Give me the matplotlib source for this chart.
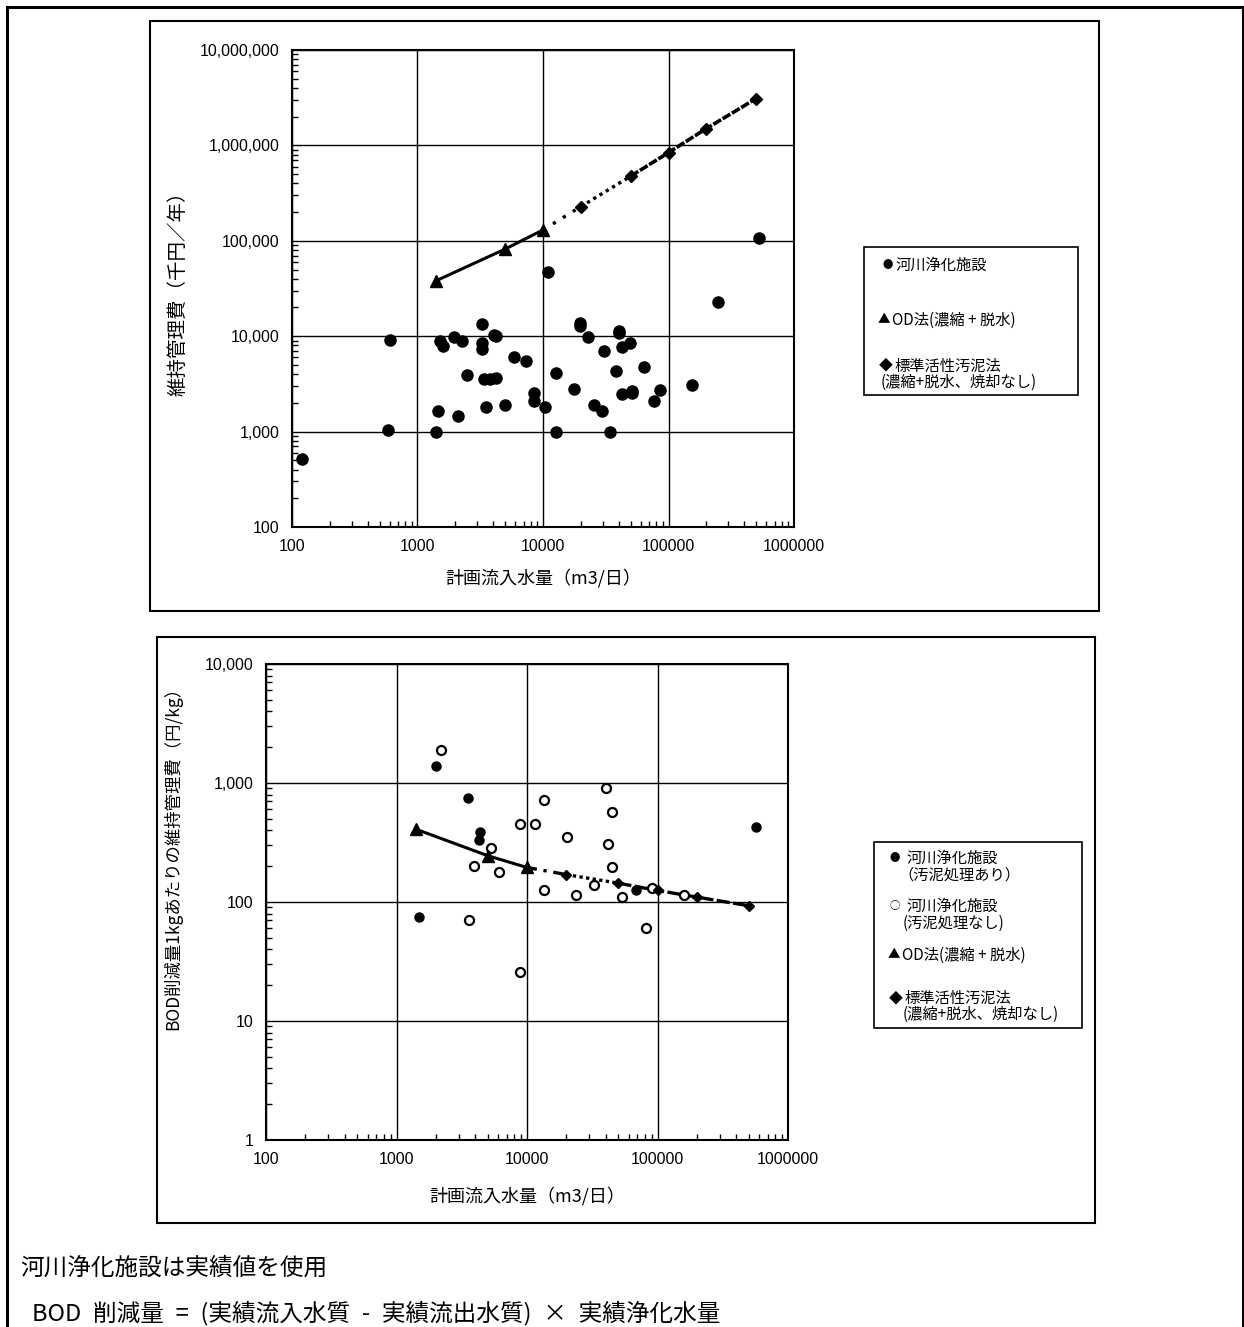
import numpy as np
import matplotlib
matplotlib.use('Agg')
import matplotlib.pyplot as plt
from matplotlib.lines import Line2D
from matplotlib.patches import Rectangle
from matplotlib.ticker import LogLocator, NullFormatter

JP = ['Noto Sans CJK JP', 'DejaVu Sans']
NUM = ['Liberation Sans', 'DejaVu Sans']

X_TICKS = [100, 1000, 10000, 100000, 1000000]
X_LABELS = ['100', '1000', '10000', '100000', '1000000']

# --- top chart: 維持管理費 (千円/年) ---
TOP_Y_TICKS = [100, 1000, 10000, 100000, 1000000, 10000000]
TOP_Y_LABELS = ['100', '1,000', '10,000', '100,000', '1,000,000', '10,000,000']

RIVER_Q = [120, 600, 580, 1400, 1450, 1500, 1600, 1950, 2250, 2100, 2500,
           3250, 3250, 3250, 3400, 3750, 4200, 3500, 4100, 4250, 5000, 5900,
           7300, 8500, 8500, 10300, 11000, 12700, 12700, 17700, 19800, 19800,
           23000, 25500, 29500, 30700, 34000, 38000, 40000, 40000, 42700,
           42700, 49000, 51000, 51000, 64000, 76000, 85000, 154000, 250000,
           530000]
RIVER_COST = [520, 9200, 1050, 1000, 1650, 9000, 7800, 9700, 9000, 1450, 3900,
              13500, 8500, 7400, 3600, 3550, 3650, 1800, 10200, 10000, 1900,
              6000, 5500, 2550, 2100, 1800, 47000, 4100, 1000, 2800, 13700,
              12800, 9800, 1900, 1650, 7000, 1000, 4300, 11300, 10700, 7700,
              2450, 8500, 2650, 2550, 4800, 2100, 2700, 3100, 23000, 107000]

OD_Q = [1400, 5000, 10000]
OD_COST = [38000, 82000, 130000]
STD_Q = [20000, 50000, 100000, 200000, 500000]
STD_COST = [228000, 476000, 841000, 1500000, 3100000]

# --- bottom chart: BOD削減量1kgあたりの維持管理費 (円/kg) ---
BOT_Y_TICKS = [1, 10, 100, 1000, 10000]
BOT_Y_LABELS = ['1', '10', '100', '1,000', '10,000']

SLUDGE_Q = [2000, 3500, 4400, 4300, 1500, 68000, 570000]
SLUDGE_UNIT = [1400, 750, 390, 330, 75, 125, 430]

NOSLUDGE_Q = [2200, 13400, 40000, 45000, 8800, 11500, 20400, 42000, 5300,
              3900, 45000, 6100, 13400, 23700, 32500, 53500, 90000, 160000,
              3600, 82000, 8800]
NOSLUDGE_UNIT = [1900, 720, 900, 570, 450, 450, 355, 305, 285, 200, 198, 177,
                 125, 115, 140, 111, 130, 115, 70, 60, 26]

OD_UNIT = [410, 245, 195]
STD_UNIT = [170, 144, 125, 110, 93]

W, H = 1244, 1327
fig = plt.figure(figsize=(W / 100, H / 100), dpi=100)


def fx(px):
    return px / W


def fy(py):
    return 1 - py / H


def box(x0, y0, x1, y1, lw=1.5):
    fig.add_artist(Rectangle((fx(x0), fy(y1)), fx(x1) - fx(x0), fy(y0) - fy(y1),
                             transform=fig.transFigure, fill=False,
                             edgecolor='black', lw=lw))


def txt(x, y, s, size=11, **kw):
    fig.text(fx(x), fy(y), s, family=JP, fontsize=size, va='center', **kw)


# page border (open at the bottom)
for xs, ys in [([7, 7], [1327, 7]), ([7, 1243], [7, 7]), ([1243, 1243], [7, 1327])]:
    fig.add_artist(Line2D([fx(v) for v in xs], [fy(v) for v in ys],
                          transform=fig.transFigure, color='black', lw=2.2))

box(150, 21, 1099, 611)
box(157, 637, 1095, 1223)


def setup(ax, yticks, ylabels):
    ax.set_xscale('log')
    ax.set_yscale('log')
    ax.set_xlim(X_TICKS[0], X_TICKS[-1])
    ax.set_ylim(yticks[0], yticks[-1])
    ax.set_xticks(X_TICKS, X_LABELS)
    ax.set_yticks(yticks, ylabels)
    ax.xaxis.set_minor_locator(LogLocator(base=10, subs=np.arange(2, 10)))
    ax.yaxis.set_minor_locator(LogLocator(base=10, subs=np.arange(2, 10)))
    ax.xaxis.set_minor_formatter(NullFormatter())
    ax.yaxis.set_minor_formatter(NullFormatter())
    ax.tick_params(which='major', length=0, labelsize=11.5, pad=9)
    ax.tick_params(which='minor', direction='in', length=4, width=1,
                   top=False, right=False)
    for lab in ax.get_xticklabels() + ax.get_yticklabels():
        lab.set_family(NUM)
    for s in ax.spines.values():
        s.set_linewidth(1.5)
    ax.grid(True, which='major', color='black', lw=1)
    ax.set_axisbelow(True)


# ---------------- top chart ----------------
ax1 = fig.add_axes([fx(292), fy(527), fx(794) - fx(292), fy(50) - fy(527)])
setup(ax1, TOP_Y_TICKS, TOP_Y_LABELS)
ax1.plot(OD_Q, OD_COST, color='black', lw=2.2, zorder=3)
ax1.plot([OD_Q[-1], STD_Q[0]], [OD_COST[-1], STD_COST[0]], color='black',
         lw=2.4, ls=(0, (1, 2.5)), zorder=3)
ax1.plot(STD_Q[:2], STD_COST[:2], color='black', lw=2.4, ls=(0, (1, 1.2)), zorder=3)
ax1.plot(STD_Q[1:], STD_COST[1:], color='black', lw=2.6, ls=(0, (2.5, 0.5)), zorder=3)
ax1.plot(RIVER_Q, RIVER_COST, 'o', color='black', ms=8, zorder=4)
ax1.plot(OD_Q, OD_COST, '^', color='black', ms=9, zorder=4)
ax1.plot(STD_Q, STD_COST, 'D', color='black', ms=6.5, zorder=4)
ax1.set_xlabel('計画流入水量（m3/日）', family=JP, fontsize=13, labelpad=10)
ax1.set_ylabel('維持管理費（千円／年）', family=JP, fontsize=14, labelpad=8)

box(864, 247, 1078, 395, lw=1.2)
txt(888, 265, '●', size=7.5, ha='center')
txt(896, 265, '河川浄化施設')
txt(884, 320, '▲', size=9, ha='center')
txt(892, 320, 'OD法(濃縮 + 脱水)')
txt(886, 366, '◆', size=10, ha='center')
txt(894, 366, '標準活性汚泥法')
txt(881, 382, '(濃縮+脱水、焼却なし)')

# ---------------- bottom chart ----------------
ax2 = fig.add_axes([fx(266), fy(1140), fx(788) - fx(266), fy(664) - fy(1140)])
setup(ax2, BOT_Y_TICKS, BOT_Y_LABELS)
ax2.plot(OD_Q, OD_UNIT, color='black', lw=2.2, zorder=3)
ax2.plot([OD_Q[-1], STD_Q[0]], [OD_UNIT[-1], STD_UNIT[0]], color='black',
         lw=2.4, ls=(0, (3, 2, 1, 2)), zorder=3)
ax2.plot(STD_Q[:2], STD_UNIT[:2], color='black', lw=2.4, ls=(0, (1, 1)), zorder=3)
ax2.plot(STD_Q[1:], STD_UNIT[1:], color='black', lw=2.4, ls=(0, (4, 1)), zorder=3)
ax2.plot(SLUDGE_Q, SLUDGE_UNIT, 'o', color='black', ms=6.5, zorder=4)
ax2.plot(NOSLUDGE_Q, NOSLUDGE_UNIT, 'o', mfc='white', mec='black', mew=1.6,
         ms=6.5, zorder=4)
ax2.plot(OD_Q, OD_UNIT, '^', color='black', ms=8, zorder=4)
ax2.plot(STD_Q, STD_UNIT, 'D', color='black', ms=5.5, zorder=4)
ax2.set_xlabel('計画流入水量（m3/日）', family=JP, fontsize=13, labelpad=14)
ax2.set_ylabel('BOD削減量1kgあたりの維持管理費（円/kg）', family=JP, fontsize=12.5)
ax2.yaxis.set_label_coords(-0.16, 0.6)

box(874, 842, 1082, 1028, lw=1.2)
txt(895, 858, '●', size=7.5, ha='center')
txt(906, 858, '河川浄化施設')
txt(898, 875, '（汚泥処理あり）')
txt(895, 906, '○', size=7.5, ha='center')
txt(906, 906, '河川浄化施設')
txt(903, 923, '(汚泥処理なし)')
txt(894, 955, '▲', size=9, ha='center')
txt(902, 955, 'OD法(濃縮 + 脱水)')
txt(896, 998, '◆', size=10, ha='center')
txt(904, 998, '標準活性汚泥法')
txt(903, 1014, '(濃縮+脱水、焼却なし)')

# ---------------- notes ----------------
txt(20, 1268, '河川浄化施設は実績値を使用', size=17)
txt(32, 1313, 'BOD\u2002削減量\u2002=\u2002(実績流入水質\u2002-\u2002実績流出水質)\u2002×\u2002実績浄化水量',
    size=17)

fig.savefig('out.png', dpi=100)
